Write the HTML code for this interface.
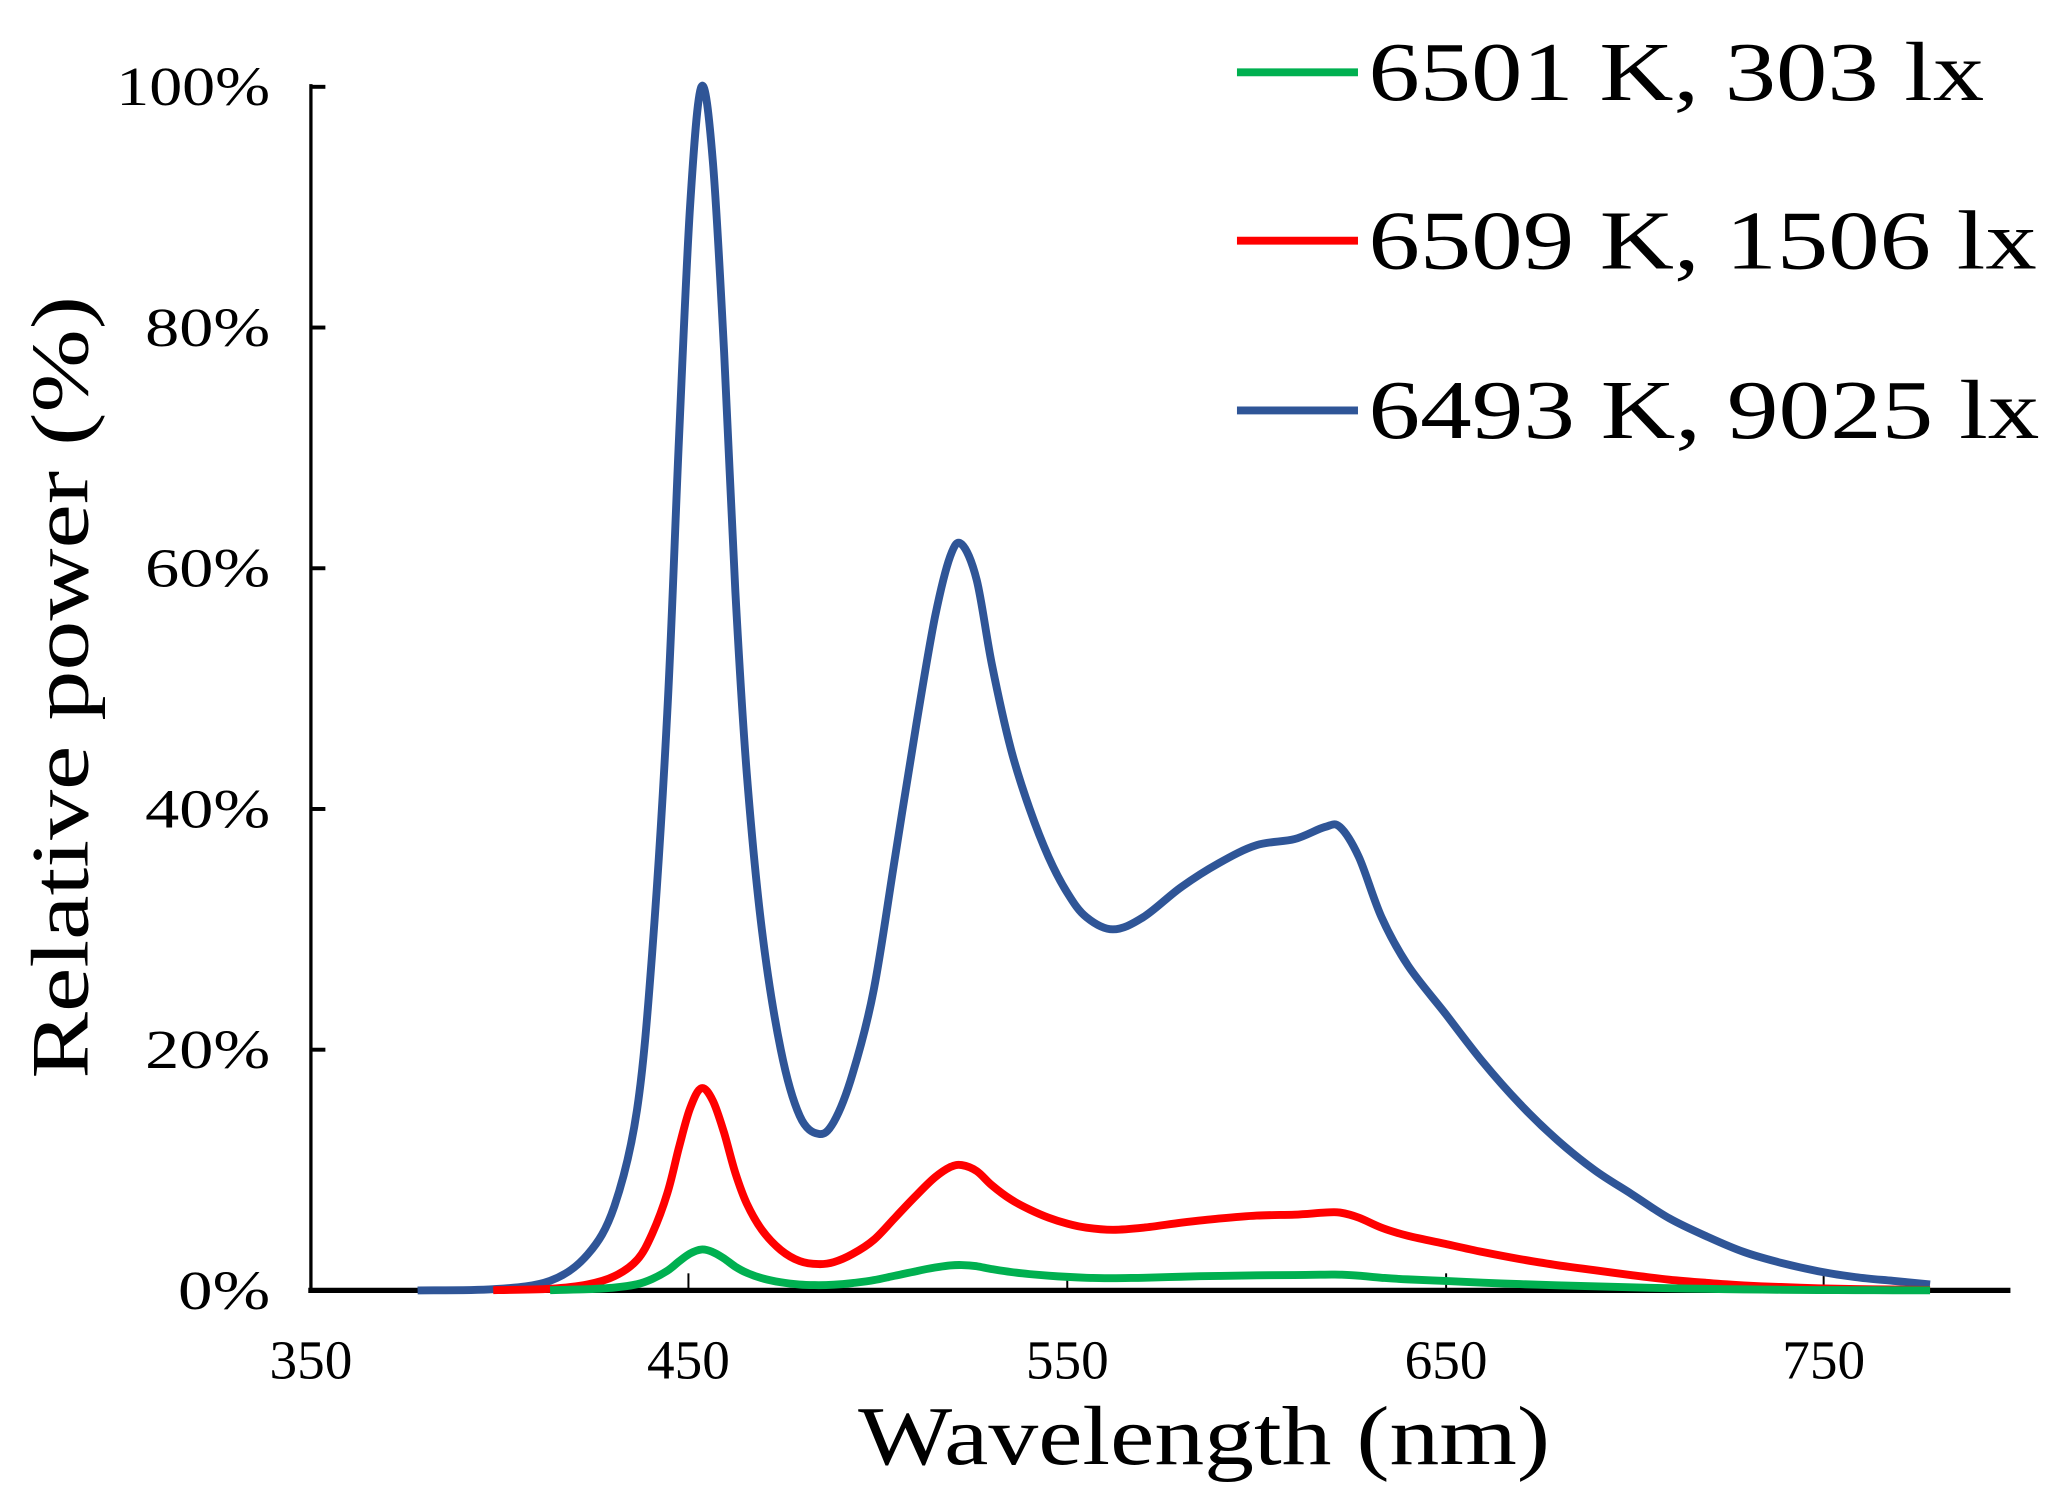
<!DOCTYPE html>
<html><head><meta charset="utf-8"><style>
html,body{margin:0;padding:0;background:#fff}
svg{display:block}
text{font-family:"Liberation Serif",serif;fill:#000}
</style></head><body>
<svg id="s" width="2053" height="1493" viewBox="0 0 1560 1135" xmlns="http://www.w3.org/2000/svg">
<rect width="1560" height="1135" fill="#fff"/>
<line x1="236" y1="64" x2="236" y2="983" stroke="#000" stroke-width="2.5"/>
<line x1="234" y1="981" x2="1528" y2="981" stroke="#000" stroke-width="4"/>
<g stroke="#000" stroke-width="3">
<line x1="236" y1="66" x2="247" y2="66"/>
<line x1="236" y1="249" x2="247" y2="249"/>
<line x1="236" y1="432" x2="247" y2="432"/>
<line x1="236" y1="615" x2="247" y2="615"/>
<line x1="236" y1="798" x2="247" y2="798"/>
</g>
<g stroke="#000" stroke-width="1.5">
<line x1="523" y1="968" x2="523" y2="981"/>
<line x1="811" y1="968" x2="811" y2="981"/>
<line x1="1099" y1="968" x2="1099" y2="981"/>
<line x1="1386" y1="968" x2="1386" y2="981"/>
</g>
<g font-size="42" text-anchor="end">
<text x="205" y="80" textLength="117" lengthAdjust="spacingAndGlyphs">100%</text>
<text x="205" y="263" textLength="95" lengthAdjust="spacingAndGlyphs">80%</text>
<text x="205" y="446" textLength="95" lengthAdjust="spacingAndGlyphs">60%</text>
<text x="205" y="629" textLength="95" lengthAdjust="spacingAndGlyphs">40%</text>
<text x="205" y="812" textLength="95" lengthAdjust="spacingAndGlyphs">20%</text>
<text x="205" y="995" textLength="70" lengthAdjust="spacingAndGlyphs">0%</text>
</g>
<g font-size="42" text-anchor="middle">
<text x="236" y="1048">350</text>
<text x="523" y="1048">450</text>
<text x="811" y="1048">550</text>
<text x="1099" y="1048">650</text>
<text x="1386" y="1048">750</text>
</g>
<text x="652" y="1113" font-size="64" textLength="526" lengthAdjust="spacingAndGlyphs">Wavelength (nm)</text>
<text transform="translate(66,820) rotate(-90)" font-size="62" textLength="595" lengthAdjust="spacingAndGlyphs">Relative power (%)</text>
<line x1="940" y1="55" x2="1032" y2="55" stroke="#00b050" stroke-width="6"/>
<line x1="940" y1="183" x2="1032" y2="183" stroke="#ff0000" stroke-width="6"/>
<line x1="940" y1="312" x2="1032" y2="312" stroke="#2f5597" stroke-width="6"/>
<g font-size="64">
<text x="1040" y="76" textLength="468" lengthAdjust="spacingAndGlyphs">6501 K, 303 lx</text>
<text x="1040" y="204" textLength="508" lengthAdjust="spacingAndGlyphs">6509 K, 1506 lx</text>
<text x="1040" y="333" textLength="510" lengthAdjust="spacingAndGlyphs">6493 K, 9025 lx</text>
</g>
<path id="pb" fill="none" stroke="#2f5597" stroke-width="6" stroke-linejoin="round"/>
<path id="pr" fill="none" stroke="#ff0000" stroke-width="6" stroke-linejoin="round"/>
<path id="pg" fill="none" stroke="#00b050" stroke-width="6" stroke-linejoin="round"/>
</svg>
<script>
var B=[[380,0],[400,0.1],[415,0.8],[425,3],[432,7],[438,15],[442,28],[446,48],[449,70],[452,90],[455,100],[458,94],[461,78],[464,58],[467,43],[471,30],[476,20],[481,14.5],[486,13],[490,14],[495,18],[500,25],[505,36],[510,47],[515,56],[519,61],[522,62],[526,59],[530,52],[535,45],[540,40],[545,36],[550,33],[555,31],[562,30],[570,31],[580,33.5],[590,35.5],[600,37],[610,37.5],[618,38.5],[622,38.5],[627,36],[633,31],[640,27],[650,23],[660,19],[670,15.5],[680,12.5],[690,10],[700,8],[710,6],[720,4.5],[730,3.2],[740,2.3],[750,1.6],[760,1.1],[770,0.8],[780,0.5]];
function X(w){
 var s=0;
 if(w<495) s=-1.8; else if(w<510) s=-1.8*(510-w)/15;
 else if(w>640) s=-2*(w-640)/140;
 return 236+(w+s-350)*2.876}
function Y(v){return 981-v*9.15}
function path(pts){
 var d="M"+pts[0][0].toFixed(1)+","+pts[0][1].toFixed(1);
 for(var i=0;i<pts.length-1;i++){
  var p0=pts[Math.max(0,i-1)],p1=pts[i],p2=pts[i+1],p3=pts[Math.min(pts.length-1,i+2)];
  var c1x=p1[0]+(p2[0]-p0[0])/6,c1y=p1[1]+(p2[1]-p0[1])/6;
  var c2x=p2[0]-(p3[0]-p1[0])/6,c2y=p2[1]-(p3[1]-p1[1])/6;
  d+="C"+c1x.toFixed(1)+","+c1y.toFixed(1)+" "+c2x.toFixed(1)+","+c2y.toFixed(1)+" "+p2[0].toFixed(1)+","+p2[1].toFixed(1);
 }
 return d;
}
function mk(scale,start,tail){
 return B.filter(function(p){return p[0]>=start}).map(function(p){
  var s=scale; if(p[0]>690) s=scale*(1-tail*(p[0]-690)/90);
  return [X(p[0]),Y(p[1]*s)];
 });
}
document.getElementById("pb").setAttribute("d",path(mk(1,380,0)));
document.getElementById("pr").setAttribute("d",path(mk(0.168,400,0.5)));
document.getElementById("pg").setAttribute("d",path(mk(0.034,415,0.5)));
</script>
</body></html>
